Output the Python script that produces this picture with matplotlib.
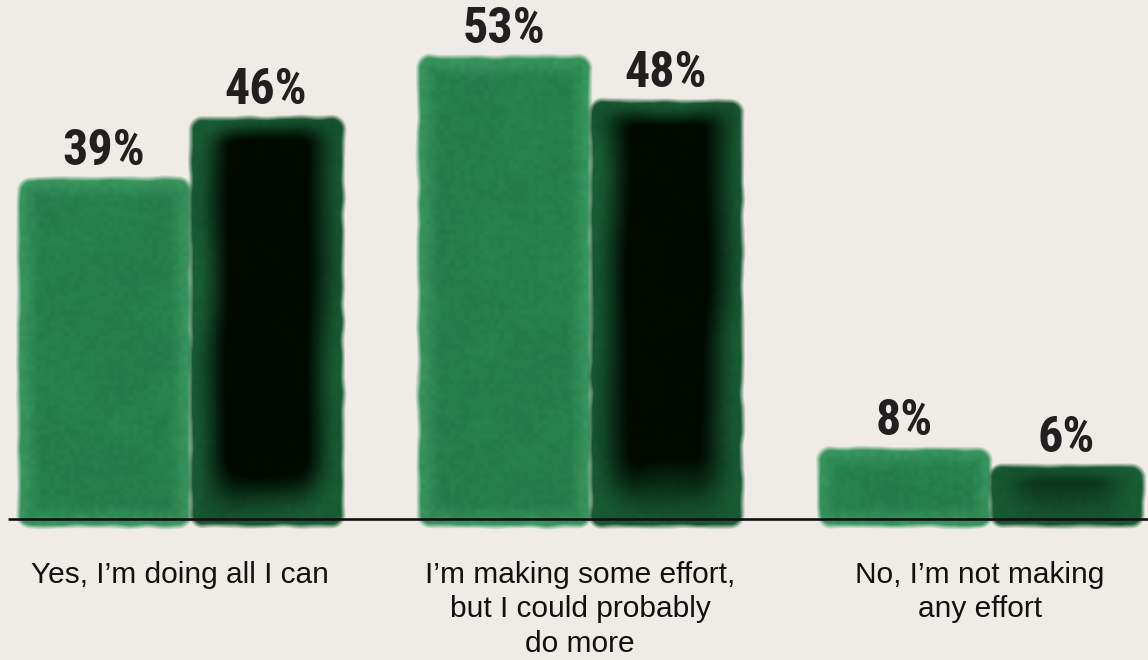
import numpy as np
import matplotlib.pyplot as plt
from matplotlib.colors import to_rgb

# Survey answers and the two series of shares (%)
categories = [
    "Yes, I’m doing all I can",
    "I’m making some effort,\nbut I could probably\ndo more",
    "No, I’m not making\nany effort",
]
series_a = [39, 53, 8]   # lighter green
series_b = [46, 48, 6]   # darker green

BG = '#efece8'
PX_X = 400.0   # pixels per x unit
PX_Y = 8.7     # pixels per percentage point
BASE = 519     # baseline, pixels from the top


def smooth_noise(h, w, cell, rng):
    """Low frequency noise in [-1, 1] made by upsampling a coarse random grid."""
    gh, gw = h // cell + 2, w // cell + 2
    g = rng.uniform(-1, 1, (gh, gw))
    ys = np.linspace(0, gh - 1.001, h)
    xs = np.linspace(0, gw - 1.001, w)
    y0, x0 = ys.astype(int), xs.astype(int)
    fy, fx = (ys - y0)[:, None], (xs - x0)[None, :]
    fy = fy * fy * (3 - 2 * fy)
    fx = fx * fx * (3 - 2 * fx)
    a = g[y0][:, x0]
    b = g[y0][:, x0 + 1]
    c = g[y0 + 1][:, x0]
    d = g[y0 + 1][:, x0 + 1]
    return (a * (1 - fx) + b * fx) * (1 - fy) + (c * (1 - fx) + d * fx) * fy


def smoothstep(e0, e1, v):
    t = np.clip((v - e0) / (e1 - e0), 0, 1)
    return t * t * (3 - 2 * t)


def paint_bar(ax, patch, edge_col, core_col, seed, dark_core):
    """Draw a soft watercolour-like block over the extent of a bar patch."""
    rng = np.random.default_rng(seed)
    x0 = patch.get_x()
    x1 = x0 + patch.get_width()
    top = patch.get_height()
    pad = 10
    below = 8  # paint runs a little under the baseline
    W = int(round((x1 - x0) * PX_X)) + 2 * pad
    H = int(round(top * PX_Y)) + below + 2 * pad
    yy, xx = np.mgrid[0:H, 0:W].astype(float)
    left, right = pad, W - pad
    bot, tp = pad, H - pad

    dx = np.minimum(xx - left, right - xx)
    dy = np.minimum(yy - bot, tp - yy)
    # distance inside a rounded rectangle
    r = 12.0
    corner = r - np.hypot(np.maximum(r - dx, 0), np.maximum(r - dy, 0))
    d = np.where((dx < r) & (dy < r), corner, np.minimum(dx, dy))
    d = d + 1.2 * smooth_noise(H, W, 18, rng)
    alpha = np.clip(0.5 + d / 5.0, 0, 1)

    n1 = smooth_noise(H, W, 40, rng)
    n2 = smooth_noise(H, W, 5, rng)
    n3 = smooth_noise(H, W, 90, rng)
    edge = np.array(to_rgb(edge_col))
    core = np.array(to_rgb(core_col))
    if dark_core:
        depth = min(1.0, (tp - bot) / 250.0)
        gh = smoothstep(3, 48, dx + 4 * n3)
        gv = np.minimum(smoothstep(0, 30, (tp - yy) + 4 * n3),
                        smoothstep(0, 75, (yy - bot) + 10 * n3))
        core_mix = gh * gv * (0.3 + 0.45 * depth)
        mix = np.clip(core_mix + 0.33 + 0.04 * n3, 0, 1)[..., None]
    else:
        mix = smoothstep(0, 25, d) * 0.75 + 0.25 + 0.12 * n1
        mix = np.clip(mix, 0, 1)[..., None]
    rgb = edge * (1 - mix) + core * mix
    rgb = rgb * (1 + 0.035 * n2[..., None] + 0.04 * n1[..., None])
    rgb = np.clip(rgb, 0, 1)
    img = np.dstack([rgb, alpha])

    ext = [x0 - pad / PX_X, x1 + pad / PX_X,
           -(below + pad) / PX_Y, top + pad / PX_Y]
    ax.imshow(img, extent=ext, origin='lower', aspect='auto',
              interpolation='bilinear', zorder=2)


fig = plt.figure(figsize=(11.48, 6.6), dpi=100, facecolor=BG)
ax = fig.add_axes([0, 0, 1, 1])
ax.set_facecolor(BG)

x = np.arange(len(categories))
wa, wb = 0.43, 0.38
bars_a = ax.bar(x - wa, series_a, width=wa, align='edge', color='none')
bars_b = ax.bar(x, series_b, width=wb, align='edge', color='none')

for i, p in enumerate(bars_a):
    paint_bar(ax, p, '#3f9b66', '#247f49', 10 + i, dark_core=False)
for i, p in enumerate(bars_b):
    paint_bar(ax, p, '#23804a', '#000a01', 20 + i, dark_core=True)

# value labels
for bars, vals in ((bars_a, series_a), (bars_b, series_b)):
    for p, v in zip(bars, vals):
        ax.annotate(f'{v}%', (p.get_x() + p.get_width() / 2, v),
                    xytext=(0, 10.5), textcoords='offset points',
                    ha='center', va='baseline', fontsize=36, fontweight='bold',
                    family=['Roboto Condensed', 'DejaVu Sans'],
                    color='#231f20', zorder=4)

# category labels under each pair
for pa, pb, lab in zip(bars_a, bars_b, categories):
    cx = (pa.get_x() + pb.get_x() + pb.get_width()) / 2
    ax.text(cx, -42 / PX_Y, lab, ha='center', va='top', fontsize=21.5,
            family=['Liberation Sans', 'DejaVu Sans'], color='#111111',
            linespacing=1.29, zorder=4)

# baseline
ax.plot([-0.455, 2.395], [0, 0], color='#111111', lw=1.9, zorder=3,
        solid_capstyle='butt')

ax.set_xlim(-0.475, 2.395)
ax.set_ylim(-(660 - BASE) / PX_Y, BASE / PX_Y)
ax.axis('off')

fig.savefig('out.png', dpi=100, facecolor=BG)
